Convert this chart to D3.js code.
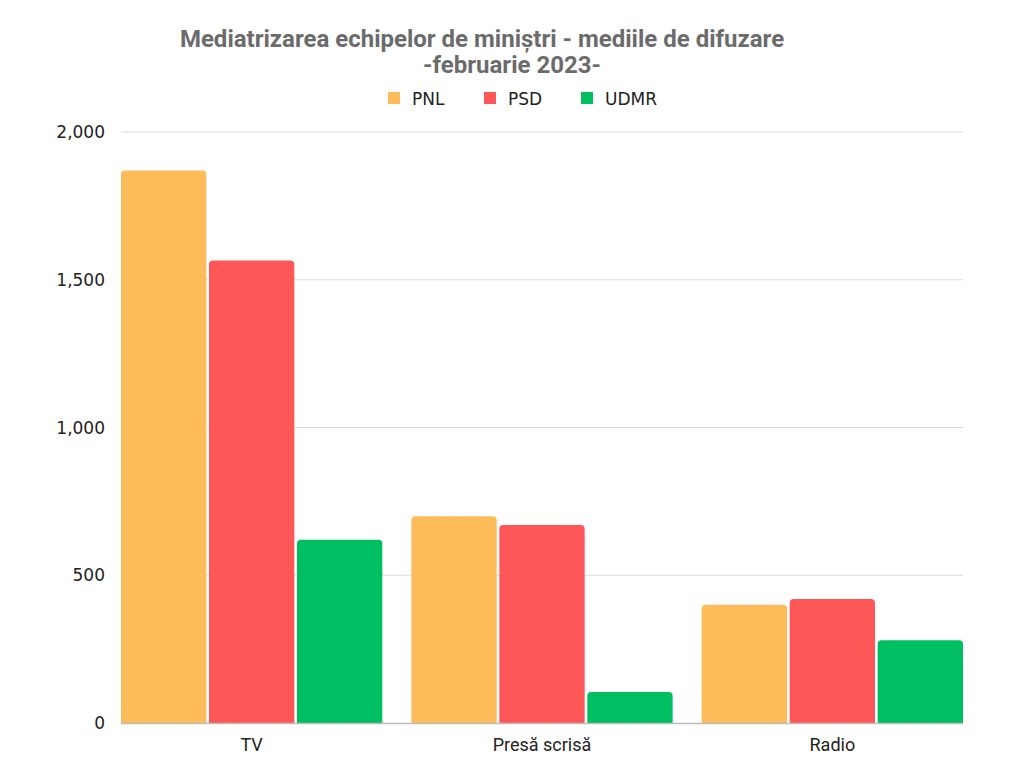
<!DOCTYPE html>
<html>
<head>
<meta charset="utf-8">
<script src="https://cdn.jsdelivr.net/npm/d3@7"></script>
<style>
  body { margin: 0; background: #fff; }
  svg { display: block; }
</style>
</head>
<body>
<div id="chart"></div>
<script>
// categories and series
const categories = ["TV", "Presă scrisă", "Radio"];
const series = ["PNL", "PSD", "UDMR"];
const pnlValues = [1870, 700, 400];
const psdValues = [1565, 670, 420];
const udmrValues = [620, 105, 280];
const yTicks = [0, 500, 1000, 1500, 2000];
const colors = ["#FDBB5A", "#FF5757", "#00BF63"];

const width = 1024, height = 768;
const margin = { top: 132, right: 61, bottom: 45, left: 121 };

const svg = d3.select("#chart").append("svg")
    .attr("width", width)
    .attr("height", height);

const valuesBySeries = [pnlValues, psdValues, udmrValues];

const x0 = d3.scaleBand()
    .domain(categories)
    .range([margin.left, width - margin.right])
    .paddingInner(0.1)
    .paddingOuter(0);

const x1 = d3.scaleBand()
    .domain(series)
    .range([0, x0.bandwidth()])
    .paddingInner(0.03);

const y = d3.scaleLinear()
    .domain([0, 2000])
    .range([height - margin.bottom, margin.top]);

// gridlines
svg.append("g")
    .selectAll("line")
    .data(yTicks.filter(d => d > 0))
    .enter()
    .append("line")
    .attr("x1", margin.left)
    .attr("x2", width - margin.right)
    .attr("y1", d => y(d))
    .attr("y2", d => y(d))
    .attr("stroke", "#dcdcdc")
    .attr("stroke-width", 1);

// y labels
svg.append("g")
    .selectAll("text")
    .data(yTicks)
    .enter()
    .append("text")
    .attr("x", 105)
    .attr("y", d => y(d) + 6)
    .attr("text-anchor", "end")
    .attr("font-family", "'DejaVu Sans', sans-serif")
    .attr("font-size", 17)
    .attr("fill", "#222")
    .text(d => d3.format(",")(d));

// bars, rounded top corners
const r = 4;
function barPath(x, yTop, w, yBase) {
    const h = yBase - yTop;
    const rr = Math.min(r, h / 2, w / 2);
    return `M${x},${yBase}V${yTop + rr}Q${x},${yTop} ${x + rr},${yTop}` +
        `H${x + w - rr}Q${x + w},${yTop} ${x + w},${yTop + rr}V${yBase}Z`;
}

const rows = [];
categories.forEach((c, i) => {
    series.forEach((s, j) => {
        rows.push({ cat: c, ser: s, value: valuesBySeries[j][i], color: colors[j] });
    });
});

svg.append("g")
    .selectAll("path")
    .data(rows)
    .enter()
    .append("path")
    .attr("d", d => barPath(x0(d.cat) + x1(d.ser), y(d.value), x1.bandwidth(), y(0)))
    .attr("fill", d => d.color);

// baseline
svg.append("line")
    .attr("x1", margin.left)
    .attr("x2", width - margin.right)
    .attr("y1", y(0) + 0.5)
    .attr("y2", y(0) + 0.5)
    .attr("stroke", "#bdbdbd")
    .attr("stroke-width", 1.5);

// x labels
svg.append("g")
    .selectAll("text")
    .data(categories)
    .enter()
    .append("text")
    .attr("x", d => x0(d) + x0.bandwidth() / 2)
    .attr("y", 751)
    .attr("text-anchor", "middle")
    .attr("font-family", "Roboto, sans-serif")
    .attr("font-size", 18)
    .attr("fill", "#222")
    .text(d => d);

// title
const title = svg.append("g")
    .attr("font-family", "Roboto, sans-serif")
    .attr("font-weight", 700)
    .attr("font-size", 24)
    .attr("fill", "#6b6b6b")
    .attr("text-anchor", "middle");
title.append("text").attr("x", 482).attr("y", 47)
    .text("Mediatrizarea echipelor de miniștri - mediile de difuzare");
title.append("text").attr("x", 512).attr("y", 73)
    .text("-februarie 2023-");

// legend
const legendX = [388, 484, 581];
const legend = svg.append("g")
    .selectAll("g")
    .data(series)
    .enter()
    .append("g")
    .attr("transform", (d, i) => `translate(${legendX[i]},92)`);
legend.append("rect")
    .attr("width", 12)
    .attr("height", 12)
    .attr("fill", (d, i) => colors[i]);
legend.append("text")
    .attr("x", 24)
    .attr("y", 13)
    .attr("font-family", "'DejaVu Sans', sans-serif")
    .attr("font-size", 17)
    .attr("fill", "#222")
    .text(d => d);
</script>
</body>
</html>
